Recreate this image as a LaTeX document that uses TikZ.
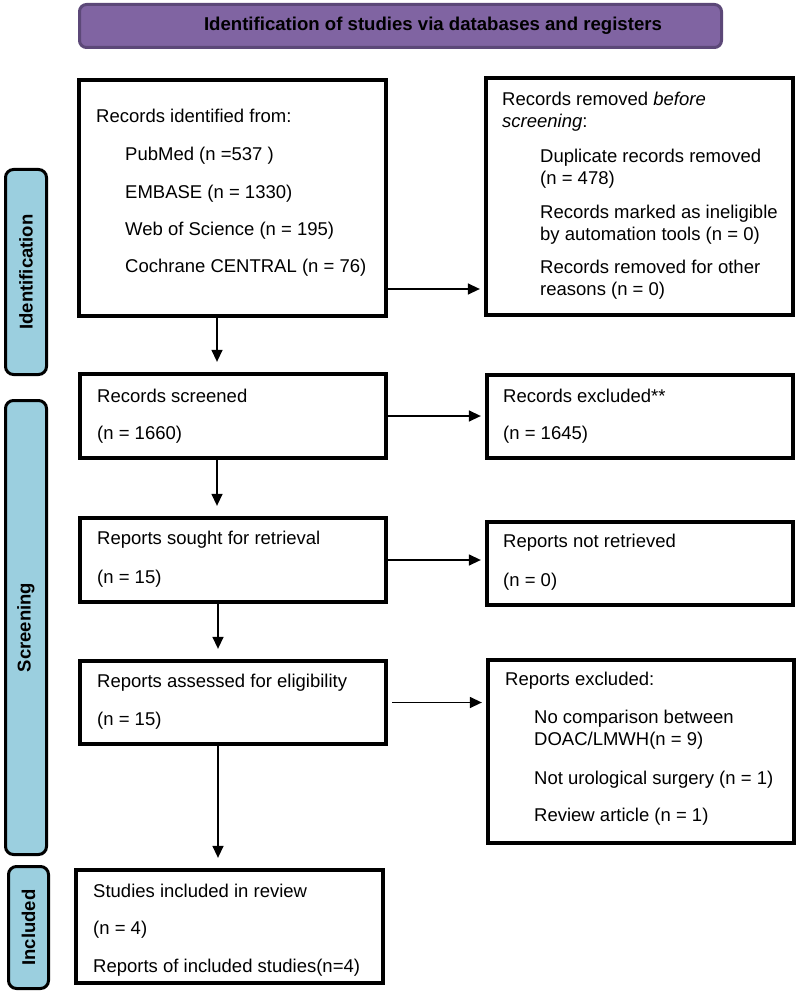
\documentclass[tikz,border=0pt]{standalone}
\usepackage{fontspec}
\setmainfont{Liberation Sans}
\usetikzlibrary{arrows.meta,calc}
\definecolor{hdrfill}{RGB}{128,100,162}
\definecolor{hdrdraw}{RGB}{92,72,120}
\definecolor{barfill}{RGB}{155,207,223}
\begin{document}
\begin{tikzpicture}[x=1pt,y=-1pt,
  box/.style={draw=black,line width=3.8pt,fill=white,rectangle,inner sep=0pt},
  txt/.style={anchor=base west,inner sep=0pt,font=\fontsize{18.5}{22}\selectfont},
  bar/.style={draw=black,line width=3pt,fill=barfill,rounded corners=8pt,inner sep=0pt,rotate=90,
    font=\fontsize{18.5}{20}\selectfont\bfseries},
  hdr/.style={draw=hdrdraw,line width=3pt,fill=hdrfill,rounded corners=7pt,inner sep=0pt,
    font=\fontsize{18.6}{20}\selectfont\bfseries},
  arr/.style={line width=1.4pt,-{Triangle[length=12pt,width=11pt]}},
]
\useasboundingbox (0,0) rectangle (800,995);

% header
\node[hdr,minimum width=642pt,minimum height=43pt] (hd) at (400.5,26) {\hspace*{65pt}Identification of studies via databases and registers};

% side bars
\node[bar,minimum width=205pt,minimum height=41pt] (s1) at (26,272) {Identification};
\node[bar,minimum width=454pt,minimum height=41pt] (s2) at (26,627.5) {Screening};
\node[bar,minimum width=122pt,minimum height=40pt] (s3) at (28.5,927.5) {Included};

% boxes
\node[box,minimum width=307.5pt,minimum height=236.5pt] (b1) at (232.5,198) {};
\node[box,minimum width=307.5pt,minimum height=236.5pt] (r1) at (639.5,196.5) {};
\node[box,minimum width=306.5pt,minimum height=84.5pt] (b2) at (233,416) {};
\node[box,minimum width=306.5pt,minimum height=83.5pt] (r2) at (640,416.5) {};
\node[box,minimum width=306.5pt,minimum height=84.5pt] (b3) at (233,560) {};
\node[box,minimum width=306.5pt,minimum height=83.5pt] (r3) at (640,563.5) {};
\node[box,minimum width=306.5pt,minimum height=83.5pt] (b4) at (233,702.5) {};
\node[box,minimum width=306.5pt,minimum height=183.5pt] (r4) at (641,751.5) {};
\node[box,minimum width=307.5pt,minimum height=113.5pt] (b5) at (229.5,926.5) {};

% texts box 1
\node[txt] (t11) at (96,123) {Records identified from:};
\node[txt] (t12) at (125,161) {PubMed (n =537 )};
\node[txt] (t13) at (125,198) {EMBASE (n = 1330)};
\node[txt] (t14) at (125,235) {Web of Science (n = 195)};
\node[txt] (t15) at (125,272) {Cochrane CENTRAL (n = 76)};

% texts right 1
\node[txt] (u11) at (502,106) {Records removed \textit{before}};
\node[txt] (u12) at (502,128) {\textit{screening}:};
\node[txt] (u13) at (540,163) {Duplicate records removed};
\node[txt] (u14) at (540,185) {(n = 478)};
\node[txt] (u15) at (540,218) {Records marked as ineligible};
\node[txt] (u16) at (540,240) {by automation tools (n = 0)};
\node[txt] (u17) at (540,273) {Records removed for other};
\node[txt] (u18) at (540,295) {reasons (n = 0)};

% box 2/3/4
\node[txt] (t21) at (97,402) {Records screened};
\node[txt] (t22) at (97,439) {(n = 1660)};
\node[txt] (t31) at (97,544) {Reports sought for retrieval};
\node[txt] (t32) at (97,583) {(n = 15)};
\node[txt] (t41) at (97,687) {Reports assessed for eligibility};
\node[txt] (t42) at (97,725) {(n = 15)};

% right 2/3/4
\node[txt] (u21) at (503,402) {Records excluded**};
\node[txt] (u22) at (503,439) {(n = 1645)};
\node[txt] (u31) at (503,547) {Reports not retrieved};
\node[txt] (u32) at (503,586) {(n = 0)};
\node[txt] (u41) at (505,685) {Reports excluded:};
\node[txt] (u42) at (534,723) {No comparison between};
\node[txt] (u43) at (534,745) {DOAC/LMWH(n = 9)};
\node[txt] (u44) at (534,784) {Not urological surgery (n = 1)};
\node[txt] (u45) at (534,821) {Review article (n = 1)};

% included
\node[txt] (t51) at (93,897) {Studies included in review};
\node[txt] (t52) at (93,934) {(n = 4)};
\node[txt] (t53) at (93,972) {Reports of included studies(n=4)};

% connectors
\coordinate (ax) at (217,0);
\coordinate (ax5) at (218,0);
\coordinate (hy1) at (0,289);
\draw[arr,shorten >=10pt] (b1.south -| ax) -- (b2.north -| ax);
\draw[arr,shorten >=10pt] (b2.south -| ax) -- (b3.north -| ax);
\draw[arr,shorten >=10pt] (b3.south -| ax5) -- (b4.north -| ax5);
\draw[arr,shorten >=10pt] (b4.south -| ax5) -- (b5.north -| ax5);
\draw[arr,shorten >=4pt] (b1.east |- hy1) -- (r1.west |- hy1);
\draw[arr,shorten >=4pt] (b2.east) -- (b2.east -| r2.west);
\draw[arr,shorten >=4pt] (b3.east) -- (b3.east -| r3.west);
\draw[arr,shorten >=4pt,shorten <=4pt] (b4.east) -- (b4.east -| r4.west);
\end{tikzpicture}
\end{document}
